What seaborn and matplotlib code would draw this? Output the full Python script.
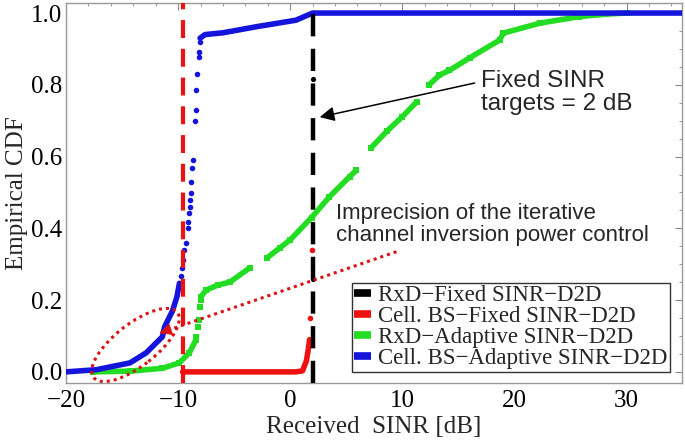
import matplotlib
matplotlib.use("Agg")
import matplotlib.pyplot as plt
import seaborn as sns
import pandas as pd
from matplotlib.lines import Line2D
from matplotlib.patches import Ellipse
from matplotlib.transforms import ScaledTranslation
from matplotlib.ticker import MultipleLocator

# ---------------- data ----------------
series_labels = ["RxD\u2212Fixed SINR\u2212D2D", "Cell. BS\u2212Fixed SINR\u2212D2D",
                 "RxD\u2212Adaptive SINR\u2212D2D", "Cell. BS\u2212Adaptive SINR\u2212D2D"]
series_colors = ["#000000", "#EE1111", "#22DD22", "#1414DC"]

# Cell. BS - Adaptive (blue)
blue_low_x = [-20, -17.3, -14.3, -12.85, -11.4, -11.2, -10.5, -10.1, -9.88]
blue_low_y = [0.0, 0.006, 0.025, 0.053, 0.098, 0.126, 0.17, 0.21, 0.247]
blue_pts_x = [-9.75, -9.63, -9.52, -9.43, -9.28, -9.16, -9.13, -9.04, -8.98, -8.92, -8.89,
              -8.83, -8.78, -8.69, -8.45, -8.39, -8.36, -8.27, -8.18, -8.15, -8.09]
blue_pts_y = [0.268, 0.289, 0.312, 0.34, 0.358, 0.40, 0.419, 0.442, 0.46, 0.479, 0.498,
              0.53, 0.567, 0.59, 0.70, 0.73, 0.786, 0.83, 0.877, 0.892, 0.92]
blue_high_x = [-8.04, -7.6, -6.0, -3.0, 0.5, 2.0, 35.0]
blue_high_y = [0.93, 0.94, 0.945, 0.962, 0.98, 1.0, 1.0]

# RxD - Adaptive (green)
green_segments = [
    ([-17.6, -14.3, -11.4, -9.9, -9.0, -8.4], [0.0, 0.002, 0.01, 0.025, 0.053, 0.09]),
    ([-7.94, -7.5, -6.45, -5.4, -3.6], [0.21, 0.228, 0.242, 0.25, 0.29]),
    ([-2.1, -0.95, 0.0, 1.9, 3.5, 5.3, 5.9], [0.317, 0.345, 0.368, 0.43, 0.488, 0.544, 0.562]),
    ([7.2, 8.6, 10.0, 11.3], [0.624, 0.67, 0.711, 0.753]),
    ([12.4, 13.3, 14.2, 16.0, 18.7, 19.0, 22.3, 25.8, 28.2, 30.0],
     [0.80, 0.827, 0.84, 0.875, 0.925, 0.944, 0.972, 0.99, 0.997, 1.0]),
]
green_pts_x = [-8.38, -8.24, -8.15, -8.09, -8.0]
green_pts_y = [0.098, 0.126, 0.145, 0.182, 0.2]

# Cell. BS - Fixed (red)
red_low_x = [-9.6, 0.5, 1.1, 1.44, 1.6, 1.73]
red_low_y = [0.0, 0.0, 0.003, 0.03, 0.06, 0.09]
red_pts_x = [1.75, 1.9]
red_pts_y = [0.15, 0.34]

# RxD - Fixed (black)
black_pts_x = [2.0, 2.0]
black_pts_y = [0.816, 0.26]

red_target = -9.6
black_target = 2.0

# ---------------- figure ----------------
sns.set_style("white")
plt.rcParams["font.family"] = ["Liberation Serif", "DejaVu Serif"]
plt.rcParams["axes.unicode_minus"] = True

fig = plt.figure(figsize=(6.85, 4.48), dpi=100)
ax = fig.add_axes([66 / 685, 65 / 448, 616 / 685, 380 / 448])

c_black, c_red, c_green, c_blue = series_colors
lw_dense = 4.0

# red
sns.lineplot(x=red_low_x, y=red_low_y, ax=ax, color=c_red, lw=lw_dense, sort=False,
             estimator=None, zorder=3)
sns.scatterplot(x=red_pts_x, y=red_pts_y, ax=ax, color=c_red, s=16, linewidth=0, zorder=3)

# green
for gx, gy in green_segments:
    sns.lineplot(x=gx, y=gy, ax=ax, color=c_green, lw=lw_dense, sort=False,
                 estimator=None, zorder=3)
    sns.scatterplot(x=gx, y=gy, ax=ax, color=c_green, marker="s", s=20, linewidth=0, zorder=3)
sns.scatterplot(x=green_pts_x, y=green_pts_y, ax=ax, color=c_green, marker="s", s=20,
                linewidth=0, zorder=3)

# blue
sns.lineplot(x=blue_low_x, y=blue_low_y, ax=ax, color=c_blue, lw=lw_dense, sort=False,
             estimator=None, zorder=4)
sns.scatterplot(x=blue_pts_x, y=blue_pts_y, ax=ax, color=c_blue, s=16, linewidth=0, zorder=4)
sns.lineplot(x=blue_high_x, y=blue_high_y, ax=ax, color=c_blue, lw=lw_dense, sort=False,
             estimator=None, zorder=4)

# target lines
ax.axvline(red_target, color=c_red, lw=3.0, dashes=(4.3, 2.6), zorder=5)
ax.axvline(black_target, color=c_black, lw=3.2, dashes=(5.0, 2.8), zorder=5)
sns.scatterplot(x=black_pts_x, y=black_pts_y, ax=ax, color=c_black, s=14, linewidth=0, zorder=6)

# axes styling
ax.set_xlim(-20, 34.95)
ax.set_ylim(-0.031, 1.028)
ax.xaxis.set_major_locator(MultipleLocator(10))
ax.xaxis.set_minor_locator(MultipleLocator(2))
ax.yaxis.set_major_locator(MultipleLocator(0.2))
ax.yaxis.set_minor_locator(MultipleLocator(0.05))
ax.yaxis.set_major_formatter(matplotlib.ticker.FormatStrFormatter("%.1f"))
ax.tick_params(which="both", direction="in", top=True, right=True, color="#888888",
               labelsize=18, labelcolor="black")
ax.tick_params(which="major", length=5, width=0.8)
ax.tick_params(which="minor", length=2.5, width=0.6)
ax.tick_params(axis="x", pad=5)
ax.tick_params(axis="y", pad=3)
for sp in ax.spines.values():
    sp.set_color("#999999")
    sp.set_linewidth(1.0)
ax.set_xlabel("Received  SINR [dB]", fontsize=18, labelpad=3)
ax.set_ylabel("Empirical CDF", fontsize=18, labelpad=2)

# legend
handles = [Line2D([], [], color=c, lw=5.5, solid_capstyle="butt") for c in series_colors]
leg = ax.legend(handles, series_labels, loc="lower right", bbox_to_anchor=(0.9805, 0.030),
                borderaxespad=0, fontsize=16.5, labelspacing=0.0, handlelength=0.75,
                handletextpad=0.3, borderpad=0.1, fancybox=False, framealpha=1,
                edgecolor="#333333")
leg.get_frame().set_linewidth(1.0)
leg.set_zorder(10)

# annotations
sans = ["Liberation Sans", "DejaVu Sans"]
ax.annotate("", xy=(2.63, 0.710), xytext=(16.45, 0.805),
            arrowprops=dict(arrowstyle="-|>", color="black", lw=1.1, mutation_scale=22,
                            shrinkA=0, shrinkB=0), zorder=7)
ax.text(17.0, 0.842, "Fixed SINR\ntargets = 2 dB", family=sans, fontsize=17.5,
        va="top", ha="left", linespacing=1.05, zorder=7)
ax.text(4.1, 0.472, "Imprecision of the iterative\nchannel inversion power control",
        family=sans, fontsize=16, va="top", ha="left", linespacing=1.1, zorder=7)

# dotted pointer and ellipse
tip = (-11.65, 0.108)
tail = (9.48, 0.335)
ax.plot([tail[0], tip[0]], [tail[1], tip[1]], color="#DD1111", lw=2.2,
        linestyle=(0, (1, 1.3)), zorder=7)
dx, dy = tail[0] - tip[0], tail[1] - tip[1]
ax.annotate("", xy=tip, xytext=(tip[0] + dx * 0.04, tip[1] + dy * 0.04),
            arrowprops=dict(arrowstyle="-|>", color="#DD1111", lw=0.5, mutation_scale=20,
                            shrinkA=0, shrinkB=0), zorder=7)
ell_center = (-13.8, 0.075)
ell = Ellipse((0, 0), 1.06, 0.42, angle=38, fill=False, edgecolor="#DD1111", lw=2.2,
              linestyle=(0, (1, 1.3)),
              transform=fig.dpi_scale_trans + ScaledTranslation(ell_center[0], ell_center[1], ax.transData),
              zorder=7)
ax.add_patch(ell)

fig.savefig("out.png", dpi=100)
